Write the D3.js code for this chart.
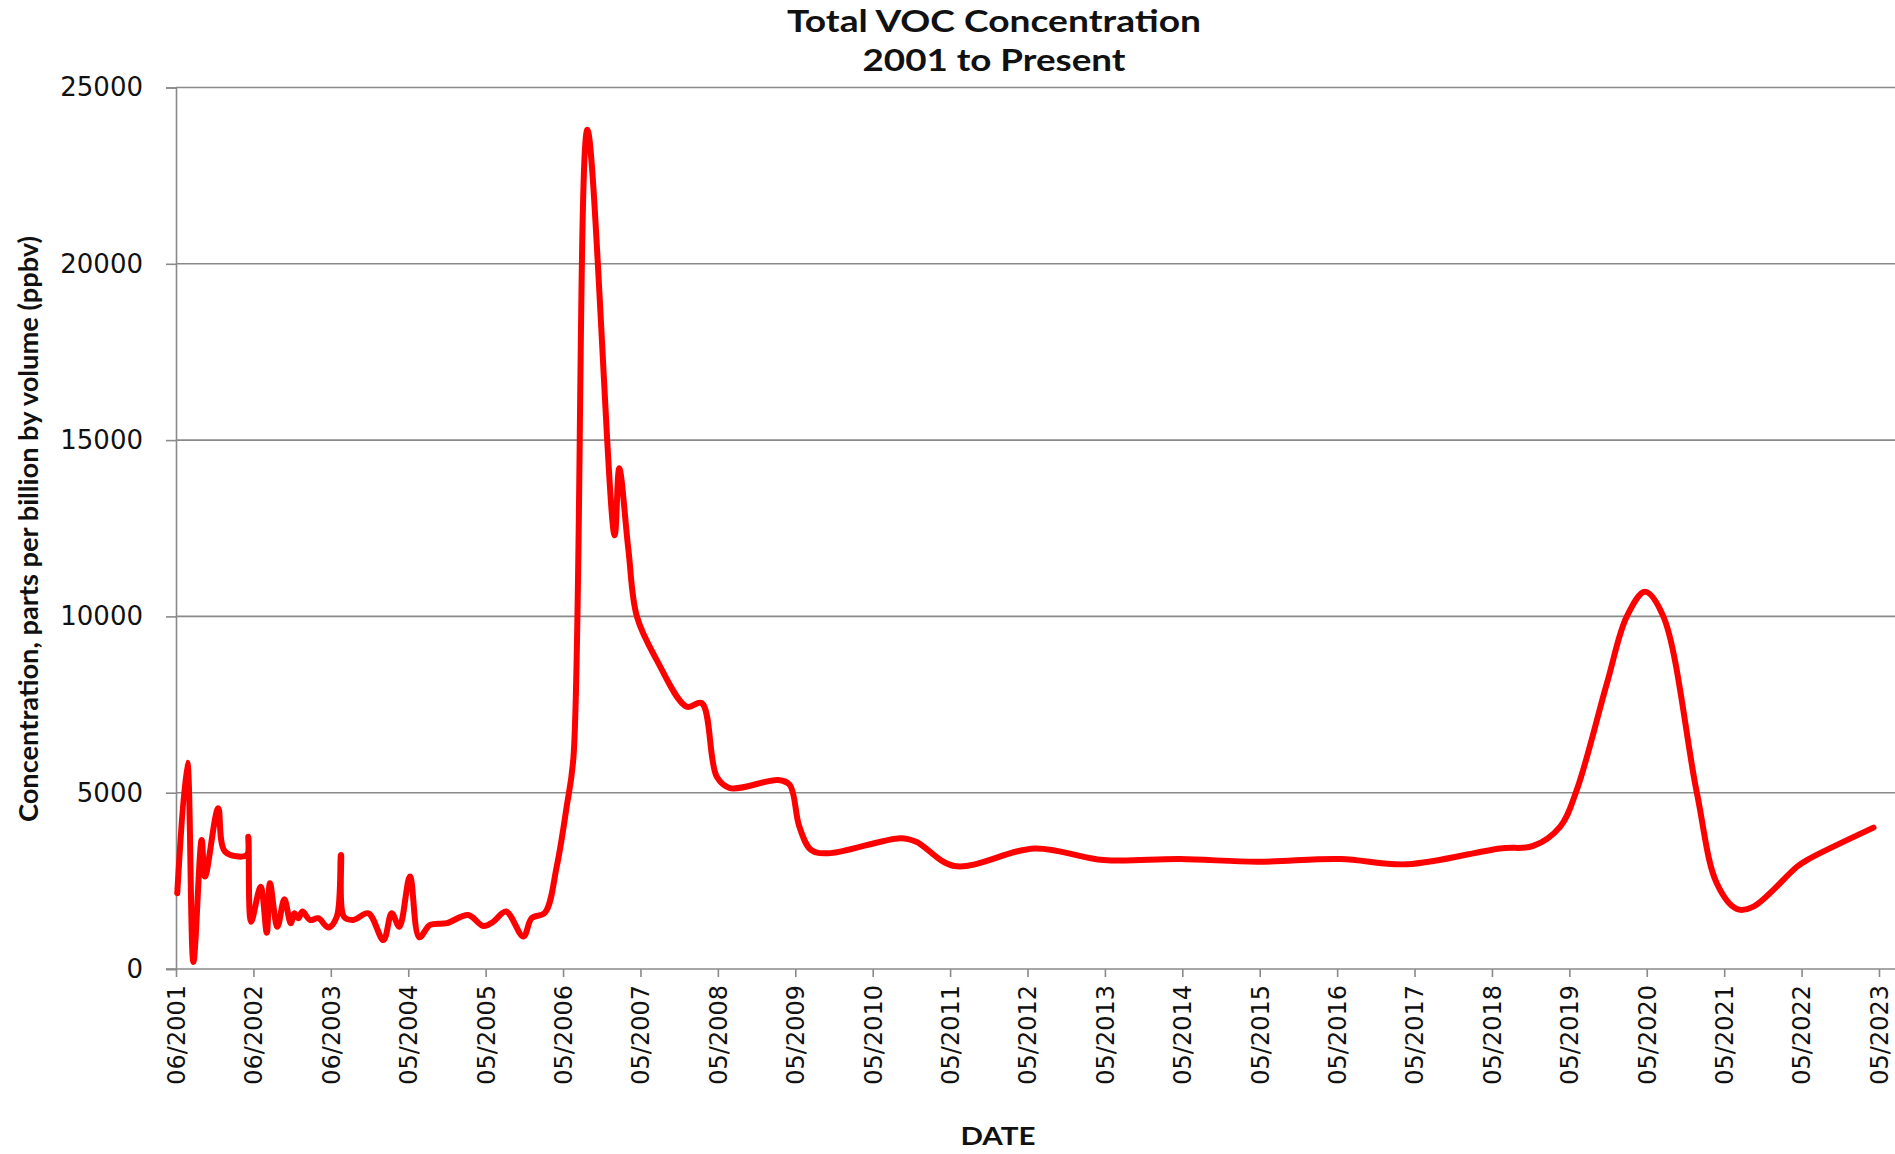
<!DOCTYPE html>
<html>
<head>
<meta charset="utf-8">
<script src="https://cdn.jsdelivr.net/npm/d3@7"></script>
<style>
  html, body { margin: 0; padding: 0; background: #ffffff; }
  svg { display: block; }
</style>
</head>
<body>
<svg id="chart" width="1895" height="1154"></svg>
<script>
// ---------------- DATA ----------------
const titleLines = ["Total VOC Concentration", "2001 to Present"];
const yAxisTitle = "Concentration, parts per billion by volume (ppbv)";
const xAxisTitle = "DATE";

const sampleDates = [
  "2001-06-07","2001-07-24","2001-08-22","2001-09-30","2001-10-16","2001-12-17",
  "2002-01-18","2002-04-30","2002-05-08","2002-05-21","2002-07-05","2002-08-03",
  "2002-08-18","2002-09-22","2002-10-25","2002-11-24","2002-12-11","2002-12-30",
  "2003-01-18","2003-02-23","2003-04-03","2003-05-20","2003-06-29","2003-07-19",
  "2003-08-02","2003-09-15","2003-11-25","2004-02-04","2004-03-14","2004-04-19",
  "2004-06-08","2004-07-22","2004-09-11","2004-11-29","2005-03-10","2005-05-20",
  "2005-07-06","2005-09-04","2005-11-25","2006-01-03","2006-03-07","2006-05-01",
  "2006-06-17","2006-07-19","2006-09-23","2007-01-29","2007-02-20","2007-04-04",
  "2007-05-14","2007-08-16","2008-01-04","2008-03-15","2008-05-25","2008-07-26",
  "2009-03-11","2009-05-04","2009-06-18","2009-08-12","2009-11-01","2010-10-09",
  "2010-12-21","2011-06-19","2012-07-02","2013-05-23","2014-05-19","2015-05-15",
  "2016-06-11","2017-04-22","2018-07-06","2018-12-08","2019-04-15","2019-07-02",
  "2019-11-21","2020-02-23","2020-05-19","2020-08-13","2021-01-18","2021-04-22",
  "2021-07-26","2021-10-12","2022-05-05","2022-06-21","2023-05-01"
];
const vocValues = [
  2150, 5850, 200, 3660, 2620, 4560,
  3330, 3230, 3750, 1340, 2330, 1030,
  2430, 1200, 1980, 1300, 1580, 1440,
  1630, 1390, 1440, 1180, 1480, 3230,
  1480, 1390, 1580, 820, 1580, 1200,
  2620, 900, 1250, 1300, 1530, 1220,
  1340, 1630, 920, 1440, 1600, 2900,
  4600, 6000, 23800, 12300, 14200, 11900,
  10000, 8760, 7440, 7540, 5450, 5130,
  5360, 5220, 4040, 3380, 3280, 3710,
  3610, 2920, 3420, 3090, 3120, 3040,
  3120, 2970, 3420, 3490, 4040, 5080,
  8100, 10000, 10700, 10000, 5000, 2430,
  1700, 1770, 2900, 3090, 4010
];

const yTicks = [0, 5000, 10000, 15000, 20000, 25000];
const xTickLabels = [
  "06/2001","06/2002","06/2003","05/2004","05/2005","05/2006","05/2007","05/2008",
  "05/2009","05/2010","05/2011","05/2012","05/2013","05/2014","05/2015","05/2016",
  "05/2017","05/2018","05/2019","05/2020","05/2021","05/2022","05/2023"
];
const axisStart = "2001-06-01";
const tickStepDays = 365;

// ---------------- CHART ----------------
const W = 1895, H = 1154;
const plot = { left: 176, right: 1879, top: 87.5, bottom: 969, gridRight: 1895 };
const svg = d3.select("#chart");
svg.append("rect").attr("width", W).attr("height", H).attr("fill", "#ffffff");

const parse = d3.timeParse("%Y-%m-%d");
const start = parse(axisStart);
const tickDates = xTickLabels.map((_, i) => d3.timeDay.offset(start, i * tickStepDays));

const x = d3.scaleTime()
  .domain([start, tickDates[tickDates.length - 1]])
  .range([plot.left, plot.right]);
const y = d3.scaleLinear().domain([0, 25000]).range([plot.bottom, plot.top]);

const gridColor = "#8a8a8a";

// gridlines
svg.append("g").selectAll("line")
  .data(yTicks.filter(v => v > 0))
  .join("line")
  .attr("x1", plot.left).attr("x2", plot.gridRight)
  .attr("y1", d => y(d)).attr("y2", d => y(d))
  .attr("stroke", gridColor).attr("stroke-width", 1.6);

// y axis
const yAxis = d3.axisLeft(y).tickValues(yTicks).tickSize(10).tickPadding(23)
  .tickFormat(d3.format("d"));
const gy = svg.append("g").attr("transform", `translate(${plot.left},0)`).call(yAxis);
gy.select(".domain").attr("stroke", gridColor).attr("stroke-width", 1.6);
gy.selectAll(".tick line").attr("stroke", gridColor).attr("stroke-width", 1.6);
gy.selectAll(".tick text")
  .attr("font-family", "'DejaVu Sans', Verdana, sans-serif")
  .attr("font-size", 26).attr("fill", "#111");

// x axis
const xAxis = d3.axisBottom(x).tickValues(tickDates).tickSize(8)
  .tickFormat((d, i) => xTickLabels[i]);
const gx = svg.append("g").attr("transform", `translate(0,${plot.bottom})`).call(xAxis);
gx.select(".domain").remove();
gx.append("line").attr("x1", plot.left - 10).attr("x2", plot.gridRight)
  .attr("y1", 0).attr("y2", 0).attr("stroke", gridColor).attr("stroke-width", 1.6);
gx.selectAll(".tick line").attr("stroke", gridColor).attr("stroke-width", 1.6);
gx.selectAll(".tick text")
  .attr("font-family", "'DejaVu Sans', Verdana, sans-serif")
  .attr("font-size", 24).attr("fill", "#111")
  .attr("transform", "rotate(-90)")
  .attr("text-anchor", "end")
  .attr("x", -16).attr("y", 0).attr("dy", "0.35em");

// data line
const data = sampleDates.map((d, i) => ({ date: parse(d), value: vocValues[i] }));
const line = d3.line()
  .x(d => x(d.date)).y(d => y(d.value))
  .curve(d3.curveCatmullRom.alpha(0.5));
svg.append("path").datum(data)
  .attr("d", line)
  .attr("fill", "none").attr("stroke", "#ff0000")
  .attr("stroke-width", 6)
  .attr("stroke-linejoin", "round").attr("stroke-linecap", "round");

// titles
const titleFont = "Lato, 'Open Sans', sans-serif";
svg.append("text").attr("x", 994).attr("y", 32)
  .attr("text-anchor", "middle").attr("font-family", titleFont)
  .attr("font-weight", 700).attr("font-size", 30).attr("fill", "#111")
  .attr("textLength", 414).attr("lengthAdjust", "spacingAndGlyphs")
  .text(titleLines[0]);
svg.append("text").attr("x", 994).attr("y", 71)
  .attr("text-anchor", "middle").attr("font-family", titleFont)
  .attr("font-weight", 700).attr("font-size", 30).attr("fill", "#111")
  .attr("textLength", 263).attr("lengthAdjust", "spacingAndGlyphs")
  .text(titleLines[1]);

svg.append("text")
  .attr("transform", "translate(38,529) rotate(-90)")
  .attr("text-anchor", "middle").attr("font-family", titleFont)
  .attr("font-weight", 700).attr("font-size", 27).attr("fill", "#111")
  .attr("textLength", 586).attr("lengthAdjust", "spacingAndGlyphs")
  .text(yAxisTitle);

svg.append("text").attr("x", 998).attr("y", 1145)
  .attr("text-anchor", "middle").attr("font-family", titleFont)
  .attr("font-weight", 700).attr("font-size", 25).attr("fill", "#111")
  .attr("textLength", 75).attr("lengthAdjust", "spacingAndGlyphs")
  .text(xAxisTitle);
</script>
</body>
</html>
